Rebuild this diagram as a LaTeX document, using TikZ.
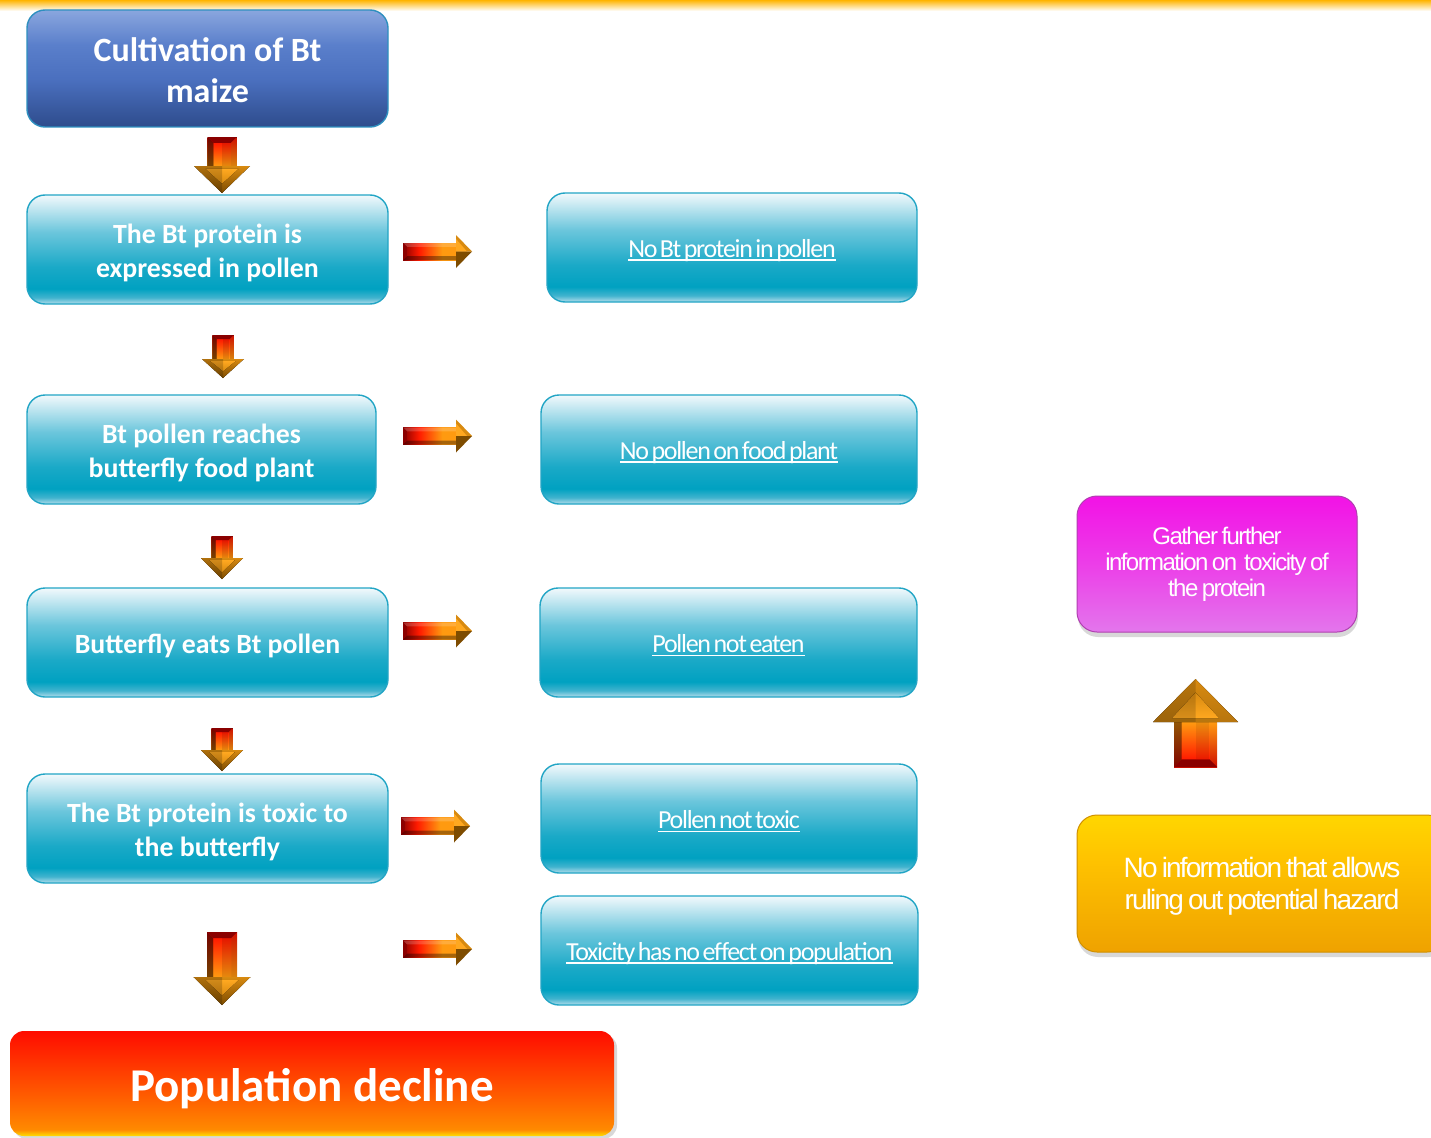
\documentclass[tikz,border=0pt]{standalone}
\usepackage{fontspec}
\setmainfont{Carlito}
\newfontfamily\condfont[LetterSpace=-5,WordSpace=0.55]{Carlito}
\newfontfamily\narrowsans[LetterSpace=-6.5,WordSpace=0.7]{Liberation Sans}
\usetikzlibrary{shadows}

% colours
\definecolor{tealA}{HTML}{B4DDEB}
\definecolor{tealB}{HTML}{40B3CE}
\definecolor{tealC}{HTML}{00A1C1}
\definecolor{tealC2}{HTML}{1AA9C7}
\definecolor{tealD}{HTML}{6BC6DC}
\definecolor{tealE}{HTML}{F2F9FC}
\definecolor{tealLine}{HTML}{22A5C5}
\definecolor{blueA}{HTML}{2E4C8C}
\definecolor{blueB}{HTML}{4A6FBE}
\definecolor{blueC}{HTML}{5A7FCB}
\definecolor{blueD}{HTML}{8AA6DE}
\definecolor{blueLine}{HTML}{2E8FBF}
\definecolor{magA}{HTML}{E376EC}
\definecolor{magB}{HTML}{EC3EE8}
\definecolor{magC}{HTML}{F212E6}
\definecolor{magLine}{HTML}{B040B0}
\definecolor{yelA}{HTML}{EFA200}
\definecolor{yelB}{HTML}{FFC400}
\definecolor{yelC}{HTML}{FFD400}
\definecolor{yelLine}{HTML}{D09000}
\definecolor{redA}{HTML}{FFE000}
\definecolor{redB}{HTML}{FF8A00}
\definecolor{redC}{HTML}{FF5A00}
\definecolor{redD}{HTML}{FF0C00}
\definecolor{barTop}{HTML}{FFB400}
\definecolor{arrDark}{HTML}{8A0000}
\definecolor{arrRim}{HTML}{D01000}
\definecolor{arrRed}{HTML}{FF1A00}
\definecolor{arrOrange}{HTML}{FF9A10}
\definecolor{arrBrown}{HTML}{8A4C00}
\definecolor{headLight}{HTML}{FFA820}
\definecolor{headMid}{HTML}{D88A10}
\definecolor{headDark}{HTML}{7E4C00}

% box fills (path box spans 25bp..75bp)
\pgfdeclareverticalshading{tealfill}{100bp}{color(0bp)=(tealA); color(25bp)=(tealA); color(28bp)=(tealB); color(32bp)=(tealC); color(42bp)=(tealC2); color(58bp)=(tealD); color(75bp)=(tealE); color(100bp)=(tealE)}
\pgfdeclareverticalshading{bluefill}{100bp}{color(0bp)=(blueA); color(25bp)=(blueA); color(45bp)=(blueB); color(60bp)=(blueC); color(75bp)=(blueD); color(100bp)=(blueD)}
\pgfdeclareverticalshading{magfill}{100bp}{color(0bp)=(magA); color(25bp)=(magA); color(50bp)=(magB); color(75bp)=(magC); color(100bp)=(magC)}
\pgfdeclareverticalshading{yelfill}{100bp}{color(0bp)=(yelA); color(25bp)=(yelA); color(60bp)=(yelB); color(73bp)=(yelC); color(75bp)=(yelC); color(100bp)=(yelC)}
\pgfdeclareverticalshading{redfill}{100bp}{color(0bp)=(redA); color(25bp)=(redA); color(28bp)=(redB); color(45bp)=(redC); color(75bp)=(redD); color(100bp)=(redD)}
\pgfdeclarehorizontalshading{harrow}{100bp}{color(0bp)=(arrDark); color(25bp)=(arrDark); color(40bp)=(arrRed); color(62bp)=(arrOrange); color(75bp)=(arrOrange); color(100bp)=(arrOrange)}

% underlined label
\newcommand\undl[1]{\setbox0\hbox{#1}\rlap{\rule[-3.5pt]{\wd0}{1.6pt}}\box0}
% invisible strut that sets the first line's height
\newcommand\topstrut[1]{\rule{0pt}{#1}}

% beveled block arrow pointing down: cx, top, head base, tip, shaft half, head half
\newcommand\ArrDown[6]{%
  \pgfmathsetmacro\bv{0.4*#5}%
  % shaft rim and face
  \fill[top color=arrRim, bottom color=arrOrange!85!black] ({#1-#5},#2) rectangle ({#1+#5},#3);
  \fill[top color=arrRed, bottom color=arrOrange] ({#1-#5+\bv},{#2+\bv}) rectangle ({#1+#5-\bv},#3);
  \fill[top color=arrDark, bottom color=arrBrown, opacity=.6] ({#1-#5},#2) -- ({#1-#5+\bv},{#2+\bv}) -- ({#1-#5+\bv},#3) -- ({#1-#5},#3) -- cycle;
  \fill[arrDark] ({#1-#5},#2) -- ({#1+#5},#2) -- ({#1+#5-\bv},{#2+\bv}) -- ({#1-#5+\bv},{#2+\bv}) -- cycle;
  \fill[black, opacity=.1] (#1,{#2+\bv}) rectangle ({#1+#5-\bv},#3);
  % head rim and face
  \fill[top color=headMid, bottom color=headDark] ({#1-#6},#3) -- ({#1+#6},#3) -- (#1,#4) -- cycle;
  \fill[top color=headLight, bottom color=headMid] ({#1-#6+2*\bv},{#3+0.5*\bv}) -- ({#1+#6-2*\bv},{#3+0.5*\bv}) -- (#1,{#4-1.6*\bv}) -- cycle;
  \fill[black, opacity=.18] ({#1-#6},#3) -- (#1,#3) -- (#1,#4) -- cycle;
}
% beveled block arrow pointing right: cy, left end, head base, tip, shaft half, head half
\newcommand\ArrRight[6]{%
  \pgfmathsetmacro\bv{0.45*#5}%
  \fill[shading=harrow] (#2,{#1-#5}) rectangle (#3,{#1+#5});
  \fill[black, opacity=.35] (#2,{#1+#5}) -- (#3,{#1+#5}) -- (#3,{#1+#5-\bv}) -- ({#2+\bv},{#1+#5-\bv}) -- cycle;
  \fill[white, opacity=.18] (#2,{#1-#5}) -- (#3,{#1-#5}) -- (#3,{#1-#5+\bv}) -- ({#2+\bv},{#1-#5+\bv}) -- cycle;
  \fill[arrDark, opacity=.8] (#2,{#1-#5}) -- ({#2+\bv},{#1-#5+\bv}) -- ({#2+\bv},{#1+#5-\bv}) -- (#2,{#1+#5}) -- cycle;
  \fill[headMid] (#3,{#1-#6}) -- (#4,#1) -- (#3,#1) -- cycle;
  \fill[headLight] (#3,{#1-#6+4}) -- ({#4-5},#1) -- (#3,#1) -- cycle;
  \fill[headDark] (#3,#1) -- (#4,#1) -- (#3,{#1+#6}) -- cycle;
}
% beveled block arrow pointing up: cx, tip, head base, bottom, shaft half, head half
\newcommand\ArrUp[6]{%
  \pgfmathsetmacro\bv{0.35*#5}%
  % shaft rim and face
  \fill[top color=arrOrange, bottom color=arrRim] ({#1-#5},#3) rectangle ({#1+#5},#4);
  \fill[top color=arrOrange, bottom color=arrRed] ({#1-#5+\bv},#3) rectangle ({#1+#5-\bv},{#4-\bv});
  \fill[top color=arrBrown, bottom color=arrDark, opacity=.4] ({#1-#5},#3) -- ({#1-#5+\bv},#3) -- ({#1-#5+\bv},{#4-\bv}) -- ({#1-#5},#4) -- cycle;
  \fill[arrDark] ({#1-#5},#4) -- ({#1+#5},#4) -- ({#1+#5-\bv},{#4-\bv}) -- ({#1-#5+\bv},{#4-\bv}) -- cycle;
  \fill[black, opacity=.08] (#1,#3) rectangle ({#1+#5-\bv},{#4-\bv});
  % head rim and face
  \fill[top color=headMid, bottom color=headMid!85!black] ({#1-#6},#3) -- (#1,#2) -- ({#1+#6},#3) -- cycle;
  \fill[top color=headMid, bottom color=headLight] ({#1-#6+2.5*\bv},{#3-0.5*\bv}) -- (#1,{#2+1.8*\bv}) -- ({#1+#6-2.5*\bv},{#3-0.5*\bv}) -- cycle;
  \fill[black, opacity=.15] ({#1-#6},#3) -- (#1,#2) -- (#1,#3) -- cycle;
}

\tikzset{
  basebox/.style={rounded corners=18, line width=1.4, align=center, text=white, inner sep=0pt},
  bluebox/.style={basebox, draw=blueLine, shading=bluefill, font=\bfseries\fontsize{34}{41}\selectfont},
  leftbox/.style={basebox, draw=tealLine, shading=tealfill, font=\bfseries\fontsize{27.8}{34}\selectfont},
  rightbox/.style={basebox, draw=tealLine, shading=tealfill, font=\condfont\fontsize{26}{30}\selectfont},
  magbox/.style={basebox, rounded corners=20, line width=1, draw=magLine, shading=magfill,
    drop shadow={shadow xshift=1pt, shadow yshift=-5pt, opacity=.3},
    font=\narrowsans\fontsize{24}{26}\selectfont},
  yelbox/.style={basebox, rounded corners=20, line width=1, draw=yelLine, shading=yelfill,
    drop shadow={shadow xshift=1pt, shadow yshift=-5pt, opacity=.3},
    font=\narrowsans\fontsize{28}{32}\selectfont},
  redbox/.style={basebox, rounded corners=14, shading=redfill,
    drop shadow={shadow xshift=3pt, shadow yshift=-3pt, opacity=.3},
    font=\bfseries\fontsize{47}{52}\selectfont},
}

\begin{document}
\begin{tikzpicture}[x=1pt, y=-1pt]
\useasboundingbox (0,0) rectangle (1431,1137);
\fill[white] (0,0) rectangle (1431,1137);
% top rule
\fill[top color=barTop, bottom color=white] (0,0) rectangle (1431,11);

% main chain
\node[bluebox, minimum width=361, minimum height=117] (cult) at (207.5,68.5) {\topstrut{0.8em}Cultivation of Bt\\maize};
\node[leftbox, minimum width=361, minimum height=109] (expr) at (207.5,249.5) {\topstrut{0.95em}The Bt protein is\\expressed in pollen};
\node[leftbox, minimum width=349, minimum height=109] (reach) at (201.5,449.5) {\topstrut{0.95em}Bt pollen reaches\\butterfly food plant};
\node[leftbox, minimum width=361, minimum height=109] (eats) at (207.5,642.5) {\topstrut{0.95em}Butterfly eats Bt pollen};
\node[leftbox, minimum width=361, minimum height=109] (toxic) at (207.5,828.5) {\topstrut{0.95em}The Bt protein is toxic to\\the butterfly};
\node[redbox, minimum width=604, minimum height=105] (decline) at (312,1083.5) {\topstrut{0.92em}Population decline};

% alternatives
\node[rightbox, minimum width=370, minimum height=109] (nobt) at (732,247.5) {\topstrut{0.92em}\undl{No Bt protein in pollen}};
\node[rightbox, minimum width=376, minimum height=109] (nopollen) at (729,449.5) {\topstrut{0.92em}\undl{No pollen on food plant}};
\node[rightbox, minimum width=377, minimum height=109] (noteaten) at (728.5,642.5) {\topstrut{0.92em}\undl{Pollen not eaten}};
\node[rightbox, minimum width=376, minimum height=109] (nottoxic) at (729,818.5) {\topstrut{0.92em}\undl{Pollen not toxic}};
\node[rightbox, minimum width=377, minimum height=109] (noeffect) at (729.5,950.5) {\topstrut{0.92em}\undl{Toxicity has no effect on population}};

% conclusion
\node[yelbox, minimum width=370, minimum height=137] (noinfo) at (1262,883.5) {\topstrut{0.94em}No information that allows\\ruling out potential hazard};
\node[magbox, minimum width=280, minimum height=136] (gather) at (1217,564) {Gather further\\information on~ toxicity of\\the protein};

% downward arrows along the chain
\ArrDown{222}{137}{166}{193}{14.5}{28}
\ArrDown{223}{335}{359}{378}{10.5}{21}
\ArrDown{222}{536}{558}{579}{10.5}{21}
\ArrDown{222}{728}{750}{771}{10.5}{21}
\ArrDown{222}{932}{977}{1005}{15}{28.5}

% arrows towards the alternatives
\ArrRight{251.5}{403}{456}{472}{8.5}{16.5}
\ArrRight{436}{403}{456}{472}{8.5}{16.5}
\ArrRight{631}{403}{456}{472}{8.5}{16.5}
\ArrRight{826}{401}{454}{470}{8.5}{16.5}
\ArrRight{949}{403}{456}{472}{8.5}{16.5}

% arrow to further information
\ArrUp{1195.5}{679}{722}{767}{21.5}{42.5}
\end{tikzpicture}
\end{document}
